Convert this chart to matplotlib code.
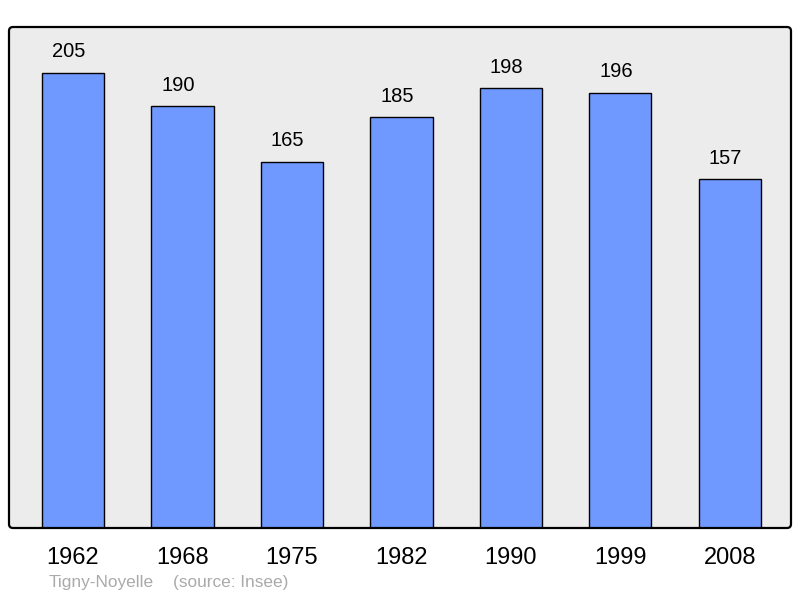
import matplotlib
matplotlib.use("Agg")
import matplotlib.pyplot as plt
from matplotlib.patches import FancyBboxPatch
from matplotlib.transforms import IdentityTransform

years = ["1962", "1968", "1975", "1982", "1990", "1999", "2008"]
population = [205, 190, 165, 185, 198, 196, 157]
commune = "Tigny-Noyelle"
source = "(source: Insee)"

plt.rcParams['font.family'] = ['Liberation Sans', 'DejaVu Sans']

W, H = 800, 598
fig = plt.figure(figsize=(8, 5.98), dpi=100)
ax = fig.add_axes([9/W, 1-528/H, 782/W, 501/H])
ax.patch.set_visible(False)

# rounded frame: background and outline
bg = FancyBboxPatch((9, H-528), 782, 501, boxstyle="round,pad=0,rounding_size=4",
                    transform=IdentityTransform(), facecolor='#ececec',
                    edgecolor='none', zorder=0, clip_on=False)
ax.add_patch(bg)
outline = FancyBboxPatch((9, H-528), 782, 501, boxstyle="round,pad=0,rounding_size=4",
                         transform=IdentityTransform(), facecolor='none',
                         edgecolor='black', linewidth=1.6, zorder=5, clip_on=False)
ax.add_patch(outline)

x = list(range(len(years)))
ax.bar(x, population, width=0.57, color='#7099ff', edgecolor='black', linewidth=1.0, zorder=3)
for xi, v in zip(x, population):
    ax.annotate(str(v), (xi, v), xytext=(-3.2, 15.2), textcoords='offset points',
                ha='center', va='center', fontsize=14.5, color='black')

ax.set_xlim(-0.585, 6.56)
ax.set_ylim(0, 225.7)
ax.set_yticks([])
ax.set_xticks(x)
ax.set_xticklabels(years, fontsize=17)
ax.tick_params(axis='x', length=0, pad=14)
for s in ax.spines.values():
    s.set_visible(False)

fig.text(49/W, 1-583/H, commune, fontsize=12.4, color='#aaaaaa', va='center', ha='left')
fig.text(173/W, 1-583/H, source, fontsize=12.4, color='#aaaaaa', va='center', ha='left')

fig.savefig("out.png", dpi=100)
